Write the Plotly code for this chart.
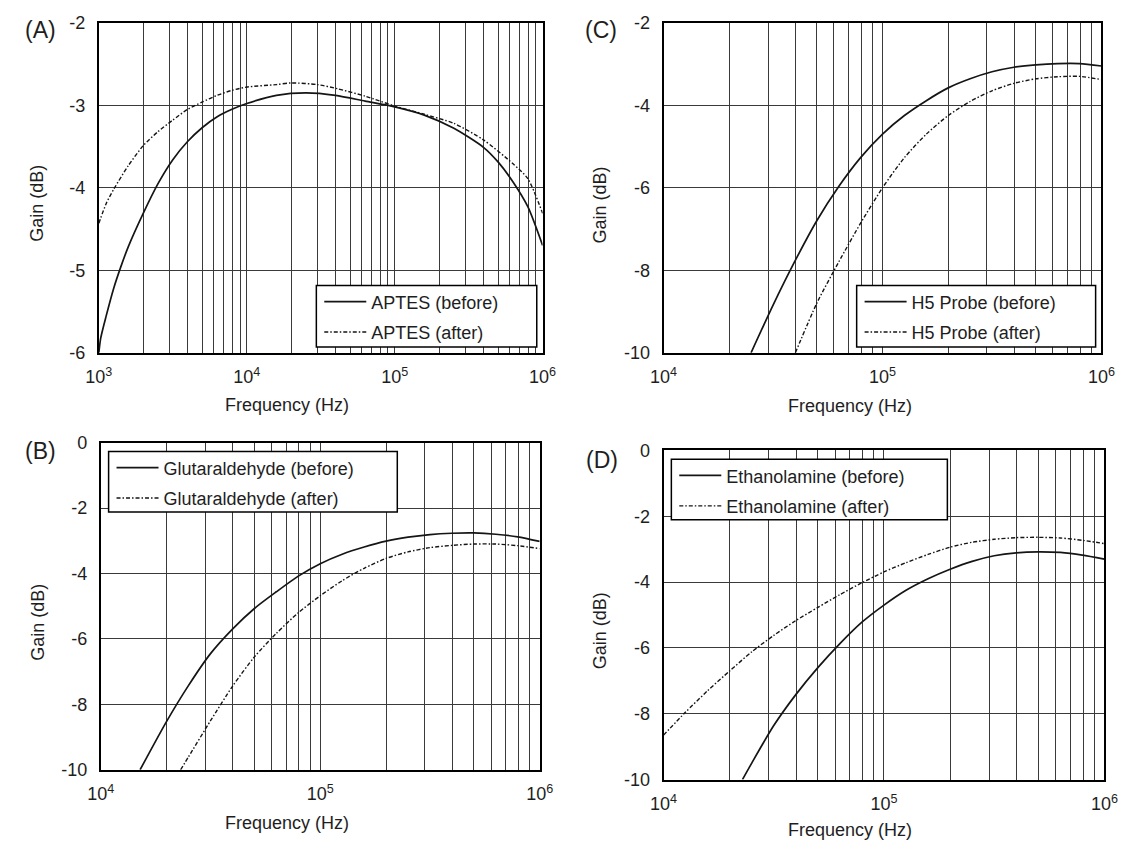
import plotly.graph_objects as go

W, H = 1134, 854

# ---------------- data ----------------
# (A) APTES
a_before_f = [1000, 1030, 1122, 1259, 1413, 1585, 1995, 2512, 3162, 3981, 5012, 6310, 7943, 10000,
              15850, 25120, 39810, 63100, 100000, 158500, 251200, 398100, 501200, 631000, 794300, 1000000]
a_before_g = [-6.0, -5.82, -5.55, -5.22, -4.95, -4.71, -4.31, -3.95, -3.66, -3.44, -3.27, -3.14, -3.05, -2.98,
              -2.88, -2.85, -2.88, -2.95, -3.02, -3.12, -3.28, -3.51, -3.69, -3.93, -4.23, -4.70]
a_after_f = [1000, 1122, 1259, 1585, 1995, 2512, 3162, 3981, 5012, 6310, 7943, 10000, 15850, 20000,
             30000, 41000, 63100, 100000, 158500, 251200, 398100, 631000, 794300, 1000000]
a_after_g = [-4.43, -4.19, -4.02, -3.73, -3.49, -3.32, -3.18, -3.05, -2.96, -2.88, -2.82, -2.78, -2.75, -2.73,
             -2.75, -2.80, -2.89, -3.01, -3.11, -3.22, -3.42, -3.71, -3.89, -4.31]

# (C) H5 Probe
c_before_f = [25100, 31600, 39800, 50100, 63100, 79400, 100000, 125900, 158500, 199500, 251200,
              316200, 398100, 501200, 631000, 794300, 1000000]
c_before_g = [-10.0, -8.85, -7.78, -6.80, -5.97, -5.27, -4.70, -4.25, -3.89, -3.58, -3.36,
              -3.19, -3.08, -3.02, -2.99, -2.99, -3.05]
c_after_f = [40000, 50100, 63100, 79400, 100000, 125900, 158500, 199500, 251200, 316200, 398100,
             501200, 631000, 794300, 1000000]
c_after_g = [-10.0, -8.80, -7.80, -6.86, -6.00, -5.27, -4.70, -4.25, -3.91, -3.65, -3.47,
             -3.36, -3.31, -3.30, -3.38]

# (B) Glutaraldehyde
b_before_f = [15100, 19950, 25120, 31620, 39810, 50120, 63100, 79430, 100000, 125900, 158500, 199500,
              251200, 316200, 398100, 501200, 631000, 794300, 1000000]
b_before_g = [-10.0, -8.52, -7.42, -6.45, -5.70, -5.07, -4.56, -4.08, -3.70, -3.41, -3.19, -3.01,
              -2.89, -2.81, -2.77, -2.76, -2.80, -2.88, -3.02]
b_after_f = [23100, 25120, 31620, 39810, 50120, 63100, 79430, 100000, 125900, 158500, 199500, 251200,
             316200, 398100, 501200, 631000, 794300, 1000000]
b_after_g = [-10.0, -9.60, -8.50, -7.45, -6.55, -5.83, -5.20, -4.68, -4.22, -3.84, -3.54, -3.34,
             -3.21, -3.14, -3.10, -3.10, -3.15, -3.24]

# (D) Ethanolamine
d_before_f = [22800, 25120, 31620, 39810, 50120, 63100, 79430, 100000, 125900, 158500, 199500, 251200,
              316200, 398100, 501200, 631000, 794300, 1000000]
d_before_g = [-10.0, -9.50, -8.36, -7.42, -6.60, -5.87, -5.22, -4.70, -4.25, -3.90, -3.61, -3.37,
              -3.20, -3.11, -3.08, -3.10, -3.18, -3.30]
d_after_f = [10000, 12590, 15850, 19950, 25120, 31620, 39810, 50120, 63100, 79430, 100000, 125900,
             158500, 199500, 251200, 316200, 398100, 501200, 631000, 794300, 1000000]
d_after_g = [-8.65, -7.95, -7.30, -6.70, -6.12, -5.62, -5.17, -4.77, -4.38, -4.02, -3.69, -3.41,
             -3.16, -2.94, -2.79, -2.70, -2.65, -2.64, -2.66, -2.73, -2.83]

names_a = ["APTES (before)", "APTES (after)"]
names_b = ["Glutaraldehyde (before)", "Glutaraldehyde (after)"]
names_c = ["H5 Probe (before)", "H5 Probe (after)"]
names_d = ["Ethanolamine (before)", "Ethanolamine (after)"]

x_ticks_a = [1e3, 1e4, 1e5, 1e6]
x_ticktext_a = ["10<sup>3</sup>", "10<sup>4</sup>", "10<sup>5</sup>", "10<sup>6</sup>"]
x_ticks_bcd = [1e4, 1e5, 1e6]
x_ticktext_bcd = ["10<sup>4</sup>", "10<sup>5</sup>", "10<sup>6</sup>"]
y_ticks_a = [-6, -5, -4, -3, -2]
y_ticks_c = [-10, -8, -6, -4, -2]
y_ticks_bd = [-10, -8, -6, -4, -2, 0]

x_title = "Frequency (Hz)"
y_title = "Gain (dB)"

# ---------------- style / layout helpers ----------------
FONT = "Arial, 'Liberation Sans', Helvetica, sans-serif"
TXT = "#1e1e1e"
GRID = "#3a3a3a"
DASH = "4px,2px,1.5px,2px"


def px(x):
    return x / W


def py(y):
    return 1 - y / H


def minor_vals(lo_exp, hi_exp):
    vals = []
    for e in range(lo_exp, hi_exp):
        for m in range(2, 10):
            vals.append(m * 10 ** e)
    return vals


panels = [
    dict(ax="", data=(a_before_f, a_before_g, a_after_f, a_after_g), names=names_a, leg="legend",
         box=(87, 542, 13, 351), xt=x_ticks_a, xtt=x_ticktext_a, yt=y_ticks_a, xr=(3, 6), yr=(-6, -2),
         legbox=(310, 536, 282, 345), label="(A)", labpos=(27, 20), ytitle=(24, 198), xtitle=(280, 404)),
    dict(ax="2", data=(c_before_f, c_before_g, c_after_f, c_after_g), names=names_c, leg="legend2",
         box=(666, 1115, 13, 351), xt=x_ticks_bcd, xtt=x_ticktext_bcd, yt=y_ticks_c, xr=(4, 6), yr=(-10, -2),
         legbox=(864, 1109, 282, 345), label="(C)", labpos=(602, 20), ytitle=(601, 200), xtitle=(857, 406)),
    dict(ax="3", data=(b_before_f, b_before_g, b_after_f, b_after_g), names=names_b, leg="legend3",
         box=(89, 539, 443, 778), xt=x_ticks_bcd, xtt=x_ticktext_bcd, yt=y_ticks_bd, xr=(4, 6), yr=(-10, 0),
         legbox=(97, 393, 452, 514), label="(B)", labpos=(27, 452), ytitle=(25, 627), xtitle=(280, 832)),
    dict(ax="4", data=(d_before_f, d_before_g, d_after_f, d_after_g), names=names_d, leg="legend4",
         box=(666, 1118, 451, 788), xt=x_ticks_bcd, xtt=x_ticktext_bcd, yt=y_ticks_bd, xr=(4, 6), yr=(-10, 0),
         legbox=(674, 957, 460, 522), label="(D)", labpos=(603, 461), ytitle=(601, 636), xtitle=(857, 840)),
]

fig = go.Figure()
annotations = []
shapes = []
layout_extra = {}

for p in panels:
    bf, bg, af, ag = p["data"]
    xa = "x" + p["ax"]
    ya = "y" + p["ax"]
    fig.add_trace(go.Scatter(x=bf, y=bg, mode="lines", name=p["names"][0], xaxis=xa, yaxis=ya,
                             line=dict(color="#151515", width=1.7, shape="spline", smoothing=0.7),
                             legend=p["leg"], legendgroup=p["names"][0]))
    fig.add_trace(go.Scatter(x=af, y=ag, mode="lines", name=p["names"][1], xaxis=xa, yaxis=ya,
                             line=dict(color="#151515", width=1.4, dash=DASH, shape="spline", smoothing=0.7),
                             legend=p["leg"], legendgroup=p["names"][1]))
    x0, x1, y0, y1 = p["box"]
    lo, hi = p["xr"]
    layout_extra["xaxis" + p["ax"]] = dict(
        type="log", range=list(p["xr"]), domain=[px(x0), px(x1)], anchor=ya,
        tickmode="array", tickvals=p["xt"], ticktext=p["xtt"],
        showgrid=True, gridcolor=GRID, gridwidth=1,
        minor=dict(tickmode="array", tickvals=minor_vals(lo, hi), showgrid=True,
                   gridcolor=GRID, gridwidth=1, ticks=""),
        showline=True, linecolor="black", linewidth=2, mirror=True,
        ticks="", ticklabelstandoff=7, zeroline=False,
        tickfont=dict(family=FONT, size=18, color=TXT))
    layout_extra["yaxis" + p["ax"]] = dict(
        range=list(p["yr"]), domain=[py(y1), py(y0)], anchor=xa,
        tickmode="array", tickvals=p["yt"], ticktext=[str(v) for v in p["yt"]],
        showgrid=True, gridcolor=GRID, gridwidth=1,
        showline=True, linecolor="black", linewidth=2, mirror=True,
        ticks="", ticklabelstandoff=8, zeroline=False,
        tickfont=dict(family=FONT, size=18, color=TXT))

    # legend frame and entries
    lx0, lx1, ly0, ly1 = p["legbox"]
    shapes.append(dict(type="rect", xref="paper", yref="paper", layer="above",
                       x0=px(lx0), x1=px(lx1), y0=py(ly1), y1=py(ly0),
                       fillcolor="white", line=dict(color="black", width=1.5)))
    layout_extra[p["leg"]] = dict(x=px(lx0 + 3), y=py(ly0 - 2), xanchor="left", yanchor="top",
                                  bgcolor="rgba(0,0,0,0)", borderwidth=0,
                                  font=dict(family=FONT, size=18, color=TXT),
                                  traceorder="grouped", tracegroupgap=4, itemwidth=42)

    annotations.append(dict(text=p["label"], x=px(p["labpos"][0]), y=py(p["labpos"][1]),
                            xref="paper", yref="paper", showarrow=False,
                            xanchor="center", yanchor="middle",
                            font=dict(family=FONT, size=23, color=TXT)))
    annotations.append(dict(text=y_title, x=px(p["ytitle"][0]), y=py(p["ytitle"][1]),
                            xref="paper", yref="paper", showarrow=False, textangle=-90,
                            xanchor="center", yanchor="middle",
                            font=dict(family=FONT, size=18, color=TXT)))
    annotations.append(dict(text=x_title, x=px(p["xtitle"][0]), y=py(p["xtitle"][1]),
                            xref="paper", yref="paper", showarrow=False,
                            xanchor="center", yanchor="middle",
                            font=dict(family=FONT, size=18, color=TXT)))

fig.update_layout(width=W, height=H, margin=dict(l=0, r=0, t=0, b=0),
                  paper_bgcolor="white", plot_bgcolor="white",
                  showlegend=True, annotations=annotations, shapes=shapes,
                  font=dict(family=FONT, size=18, color=TXT),
                  **layout_extra)

fig.write_html("out.html", config={"displayModeBar": False},
               post_script="document.body.style.margin='0px';")
